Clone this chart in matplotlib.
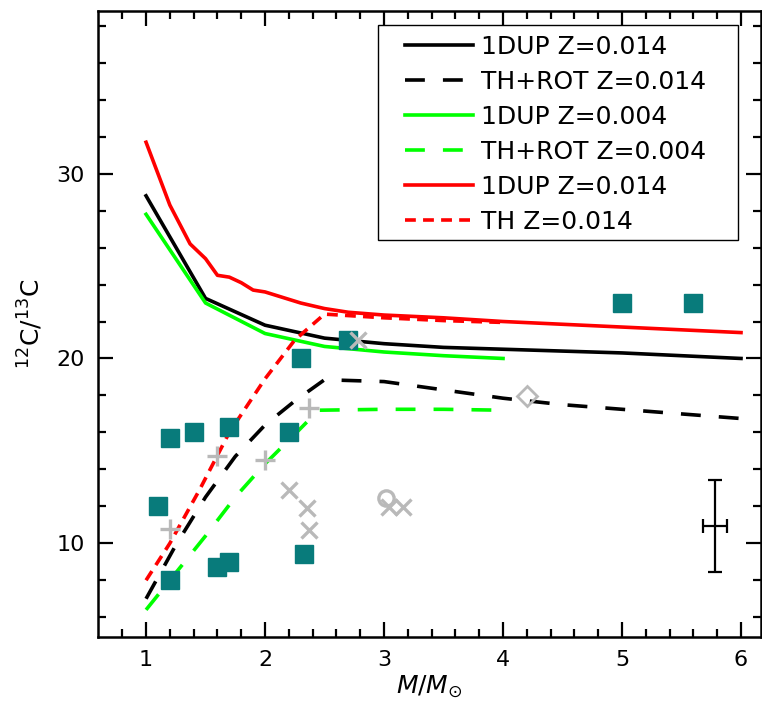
import numpy as np
import matplotlib.pyplot as plt
from matplotlib.patches import Rectangle

plt.rcParams['font.family'] = ['DejaVu Sans']
plt.rcParams['mathtext.fontset'] = 'custom'
plt.rcParams['mathtext.rm'] = 'DejaVu Sans'
plt.rcParams['mathtext.it'] = 'DejaVu Sans:italic'

# model tracks: 12C/13C vs initial mass
m_dup014 = [1, 1.5, 2, 2.5, 3, 3.5, 4, 4.5, 5, 5.5, 6]
r_dup014 = [28.8, 23.25, 21.8, 21.1, 20.8, 20.6, 20.5, 20.4, 20.3, 20.15, 20.0]

m_rot014 = [1, 1.25, 1.5, 1.75, 2, 2.25, 2.5, 3, 3.5, 4, 4.5, 5, 5.5, 6]
r_rot014 = [7.0, 9.9, 12.5, 14.7, 16.4, 17.7, 18.85, 18.75, 18.3, 17.85, 17.5, 17.25, 17.0, 16.75]

m_dup004 = [1, 1.5, 2, 2.5, 3, 3.5, 4]
r_dup004 = [27.8, 23.0, 21.35, 20.65, 20.35, 20.15, 20.0]

m_rot004 = [1, 1.25, 1.5, 1.75, 2, 2.25, 2.45, 3, 3.5, 4]
r_rot004 = [6.4, 8.4, 10.4, 12.5, 14.3, 15.9, 17.2, 17.25, 17.25, 17.2]

m_dup014b = [1, 1.2, 1.37, 1.5, 1.6, 1.7, 1.8, 1.9, 2.0, 2.1, 2.3, 2.5, 2.7, 3, 3.5, 4, 5, 6]
r_dup014b = [31.7, 28.3, 26.2, 25.4, 24.5, 24.4, 24.1, 23.7, 23.6, 23.4, 23.0, 22.7, 22.5, 22.35, 22.2, 22.0, 21.7, 21.4]

m_th014 = [1, 1.2, 1.45, 1.7, 2.0, 2.25, 2.5, 3, 3.5, 4]
r_th014 = [8.0, 10.0, 12.9, 16.0, 18.9, 21.0, 22.4, 22.2, 22.05, 21.95]

# observed stars
sq_m = [1.1, 1.2, 1.2, 1.4, 1.6, 1.7, 1.7, 2.2, 2.3, 2.33, 2.7, 5.0, 5.6]
sq_r = [12.0, 15.7, 8.0, 16.0, 8.7, 9.0, 16.3, 16.0, 20.0, 9.4, 21.0, 23.0, 23.0]

plus_m = [1.2, 1.6, 2.0, 2.37]
plus_r = [10.8, 14.7, 14.5, 17.3]

x_m = [2.2, 2.35, 2.37, 2.78, 3.04, 3.16]
x_r = [12.9, 11.9, 10.7, 21.0, 11.98, 11.95]

circ_m = [3.02]
circ_r = [12.47]

dia_m = [4.2]
dia_r = [17.95]

# typical error
err_m, err_r = 5.78, 10.95
err_dm, err_dr = 0.1, 2.5

teal = '#087b7b'
grey = '#b9b9b9'

fig = plt.figure(figsize=(7.62, 7.08), dpi=100)
ax = fig.add_axes([97.5 / 762, 1 - 637 / 708, (761 - 97.5) / 762, (637 - 11) / 708])

ax.plot(m_dup014, r_dup014, color='k', lw=2.6, label='1DUP Z=0.014')
ax.plot(m_rot014, r_rot014, color='k', lw=2.6, dashes=(5.5, 5), label='TH+ROT Z=0.014')
ax.plot(m_dup004, r_dup004, color='#00ff00', lw=2.6, label='1DUP Z=0.004')
ax.plot(m_rot004, r_rot004, color='#00ff00', lw=2.6, dashes=(5.5, 5), label='TH+ROT Z=0.004')
ax.plot(m_dup014b, r_dup014b, color='#ff0000', lw=2.6, label='1DUP Z=0.014')
ax.plot(m_th014, r_th014, color='#ff0000', lw=2.6, dashes=(3, 2), label='TH Z=0.014')

ax.plot(sq_m, sq_r, ls='none', marker='s', ms=13, color=teal, mec=teal)
ax.plot(plus_m, plus_r, ls='none', marker='+', ms=15, mew=2.4, color=grey)
ax.plot(x_m, x_r, ls='none', marker='x', ms=12, mew=2.4, color=grey)
ax.plot(circ_m, circ_r, ls='none', marker='o', ms=11, mew=2.4, mfc='none', mec=grey)
ax.plot(dia_m, dia_r, ls='none', marker='D', ms=10, mew=2.0, mfc='none', mec=grey)

ax.errorbar(err_m, err_r, xerr=err_dm, yerr=err_dr, fmt='none', ecolor='k',
            elinewidth=1.6, capsize=5, capthick=1.6)

ax.set_xlim(0.592, 6.168)
ax.set_ylim(4.93, 38.8)
ax.set_xticks([1, 2, 3, 4, 5, 6])
ax.set_xticks(np.arange(0.8, 6.2, 0.2), minor=True)
ax.set_yticks([10, 20, 30])
ax.set_yticks(np.arange(6, 39, 2), minor=True)
ax.tick_params(which='both', direction='in', top=True, right=True, width=1.6, labelsize=16, pad=9)
ax.tick_params(which='major', length=11)
ax.tick_params(which='minor', length=6)
for s in ax.spines.values():
    s.set_linewidth(1.8)

ax.set_xlabel(r'$M/M_{\odot}$', fontsize=18, labelpad=3)
ax.set_ylabel(r'$^{12}$C/$^{13}$C', fontsize=18, labelpad=8)

leg = ax.legend(loc='upper left', bbox_to_anchor=(405 / 762, 1 - 35 / 708), bbox_transform=fig.transFigure,
                frameon=False, borderpad=0, borderaxespad=0, fontsize=18, handlelength=2.7,
                handletextpad=0.35, labelspacing=0.44)
fig.patches.append(Rectangle((378 / 762, 1 - 240 / 708), (738 - 378) / 762, (240 - 25) / 708,
                             transform=fig.transFigure, fill=False, lw=1.0, ec='k', zorder=5))

fig.savefig('out.png', dpi=100)
